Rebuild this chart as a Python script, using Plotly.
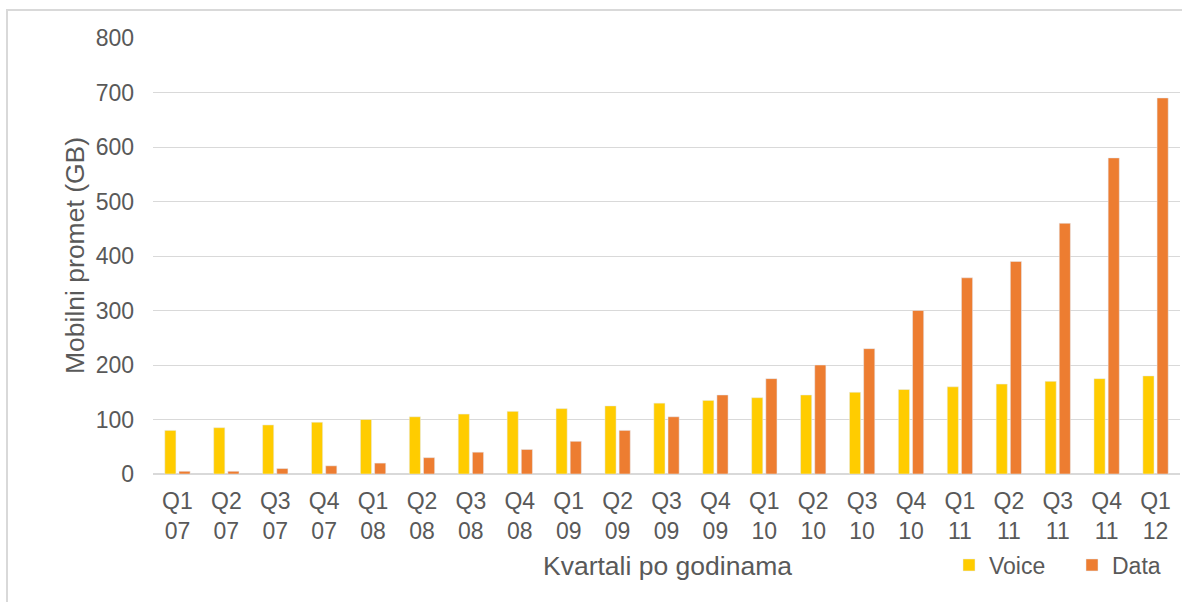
import plotly.graph_objects as go

categories = ["Q1<br>07", "Q2<br>07", "Q3<br>07", "Q4<br>07",
              "Q1<br>08", "Q2<br>08", "Q3<br>08", "Q4<br>08",
              "Q1<br>09", "Q2<br>09", "Q3<br>09", "Q4<br>09",
              "Q1<br>10", "Q2<br>10", "Q3<br>10", "Q4<br>10",
              "Q1<br>11", "Q2<br>11", "Q3<br>11", "Q4<br>11",
              "Q1<br>12"]
voice = [80, 85, 90, 95, 100, 105, 110, 115, 120, 125, 130, 135,
         140, 145, 150, 155, 160, 165, 170, 175, 180]
data = [5, 5, 10, 15, 20, 30, 40, 45, 60, 80, 105, 145,
        175, 200, 230, 300, 360, 390, 460, 580, 690]
y_ticks = [0, 100, 200, 300, 400, 500, 600, 700, 800]

FONT = "Liberation Sans, Arial, sans-serif"
GREY = "#595959"

fig = go.Figure()
fig.add_trace(go.Bar(x=categories, y=voice, name="Voice",
                     marker=dict(color="#FFCC00")))
fig.add_trace(go.Bar(x=categories, y=data, name="Data",
                     marker=dict(color="#ED7D31")))

L, R, T, B = 153, 2, 38, 128
W, H = 1182, 602
pw = W - L - R
ph = H - T - B

def px_x(x):
    return (x - L) / pw

def px_y(y):
    return (H - B - y) / ph

fig.update_layout(
    width=W, height=H,
    margin=dict(l=L, r=R, t=T, b=B, autoexpand=False),
    paper_bgcolor="white", plot_bgcolor="white",
    font=dict(family=FONT, size=23, color=GREY),
    barmode="group", bargap=0.42, bargroupgap=0.214,
    showlegend=True,
    legend=dict(orientation="h", x=px_x(949), xanchor="left",
                y=px_y(565), yanchor="middle",
                font=dict(size=23, color=GREY),
                bgcolor="rgba(0,0,0,0)", entrywidth=78,
                itemclick=False, itemdoubleclick=False),
    xaxis=dict(showgrid=False, showline=False, ticks="",
               tickfont=dict(size=23, color=GREY), tickangle=0,
               ticklabelstandoff=11, automargin=False),
    yaxis=dict(range=[0, 800], tickvals=y_ticks, showgrid=True,
               gridcolor="#d9d9d9", gridwidth=1, zeroline=True,
               zerolinecolor="#d9d9d9", zerolinewidth=2, showline=False,
               tickfont=dict(size=23, color=GREY), ticklabelstandoff=18,
               automargin=False),
    annotations=[
        dict(text="Mobilni promet (GB)", xref="paper", yref="paper",
             x=px_x(75), y=0.5, xanchor="center", yanchor="middle",
             textangle=-90, showarrow=False,
             font=dict(size=26.5, color=GREY, family=FONT)),
        dict(text="Kvartali po godinama", xref="paper", yref="paper",
             x=px_x(667), y=px_y(566), xanchor="center", yanchor="middle",
             showarrow=False, font=dict(size=26.5, color=GREY, family=FONT)),
    ],
    shapes=[dict(type="rect", xref="paper", yref="paper",
                 x0=px_x(7), x1=px_x(1250), y0=px_y(10), y1=px_y(700),
                 line=dict(color="#d9d9d9", width=2), layer="below")],
)

fig.write_html("out.html",
               config={"displayModeBar": False},
               post_script="document.body.style.margin='0';"
                           "document.body.style.overflow='hidden';")
